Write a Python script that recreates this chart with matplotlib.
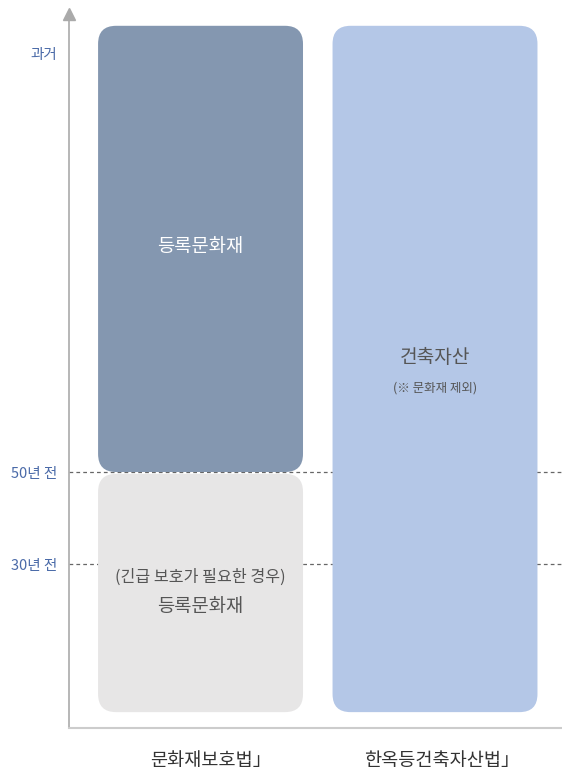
import matplotlib
matplotlib.use('Agg')
import matplotlib.pyplot as plt
from matplotlib.patches import FancyBboxPatch

plt.rcParams['font.family'] = ['Noto Sans CJK KR', 'DejaVu Sans']

# categories (laws) on the x axis
laws = ['문화재보호법」', '한옥등건축자산법」']

# y axis: years ago
tick_years = [141, 50, 30]
tick_labels = ['과거', '50년 전', '30년 전']
guide_years = [50, 30]

# boxes: (law index, from year, to year, color)
box_law = [0, 0, 1]
box_from = [50, -2.2, -2.2]
box_to = [147, 49.6, 147]
box_color = ['#8497b0', '#e7e6e6', '#b4c7e7']

# texts inside boxes: (law index, year, text, size, color)
txt_law = [0, 1, 1, 0, 0]
txt_year = [99, 75, 68.3, 27.2, 20.7]
txt_str = ['등록문화재', '건축자산', '(※ 문화재 제외)', '(긴급 보호가 필요한 경우)', '등록문화재']
txt_size = [13.5, 13.8, 9, 11.6, 13.5]
txt_color = ['white', '#555555', '#555555', '#555555', '#555555']

BOX_W = 0.874
PX_X = 234.5   # px per x unit
PX_Y = 4.6     # px per year

fig = plt.figure(figsize=(5.62, 7.73), dpi=100)
ax = fig.add_axes([69 / 562, 45 / 773, 493 / 562, 714 / 773])
ax.set_xlim(-0.561, 1.5416)
ax.set_ylim(-5.65, (702 - 14) / PX_Y)

for y in guide_years:
    ax.axhline(y, color='#666666', lw=0.9, ls=(0, (3, 2.5)), zorder=1)

r = 18 / PX_X
for i, y0, y1, c in zip(box_law, box_from, box_to, box_color):
    p = FancyBboxPatch((i - BOX_W / 2 + r, y0 + r * PX_X / PX_Y),
                       BOX_W - 2 * r, (y1 - y0) - 2 * r * PX_X / PX_Y,
                       boxstyle=f'round,pad={r}', mutation_aspect=PX_X / PX_Y,
                       fc=c, ec='none', zorder=2)
    ax.add_patch(p)

for i, y, s, fs, c in zip(txt_law, txt_year, txt_str, txt_size, txt_color):
    ax.text(i, y, s, ha='center', va='center', fontsize=fs, color=c, zorder=3)

ax.set_yticks(tick_years)
ax.set_yticklabels(tick_labels, color='#4a6aa8', fontsize=10.5)
ax.set_xticks([0.045, 1.03])
ax.set_xticklabels(laws, color='#333333', fontsize=13.4)
ax.tick_params(axis='y', length=0, pad=8.5)
ax.tick_params(axis='x', length=0, pad=17)

for s in ['top', 'right']:
    ax.spines[s].set_visible(False)
ax.spines['left'].set_color('#aaaaaa')
ax.spines['bottom'].set_color('#cccccc')
ax.spines['left'].set_linewidth(1.2)
ax.spines['bottom'].set_linewidth(1.5)
ax.plot([0], [1], marker='^', ms=8, color='#aaaaaa', transform=ax.transAxes, clip_on=False)

fig.savefig('out.png', dpi=100)
